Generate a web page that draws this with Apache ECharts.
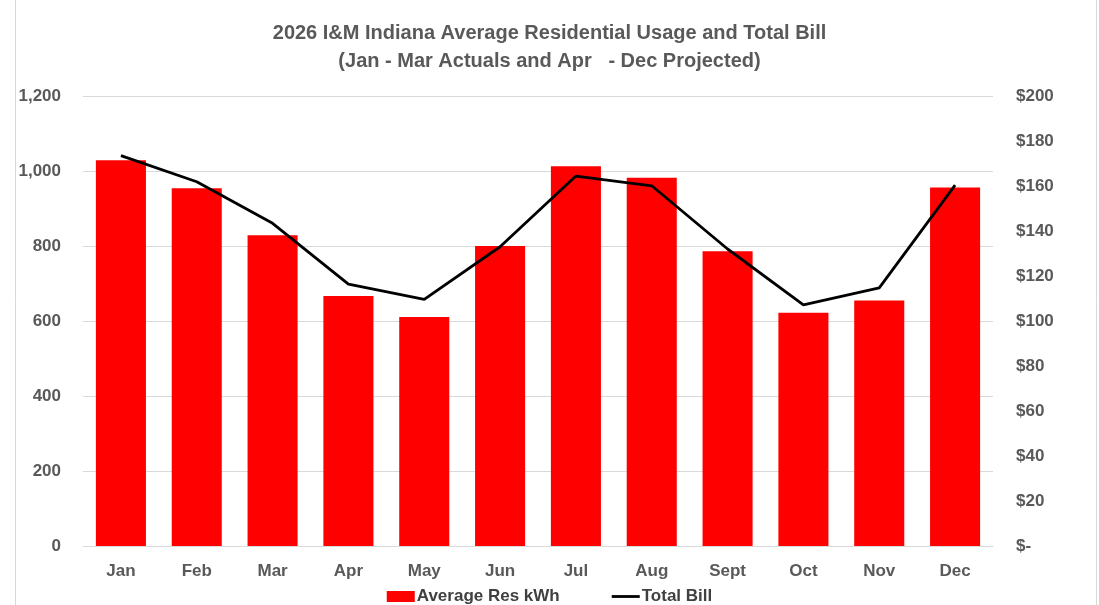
<!DOCTYPE html>
<html>
<head>
<meta charset="UTF-8">
<script src="https://cdn.jsdelivr.net/npm/echarts@6/dist/echarts.min.js"></script>
<style>
  html, body { margin: 0; padding: 0; background: #fff; }
  #main { width: 1099px; height: 605px; }
</style>
</head>
<body>
<div id="main"></div>
<script>
    // values
    var months = ['Jan', 'Feb', 'Mar', 'Apr', 'May', 'Jun', 'Jul', 'Aug', 'Sept', 'Oct', 'Nov', 'Dec'];
    var usageKwh = [1029, 954, 829, 667, 611, 800, 1013, 982, 786, 622, 655, 956];
    var totalBill = [173.5, 161.9, 143.4, 116.4, 109.6, 133, 164.4, 160.1, 132, 107.2, 114.7, 160.4];

    var grey = '#595959';
    var chart = echarts.init(document.getElementById('main'));

    var option = {
        animation: false,
        backgroundColor: '#fff',
        title: {
            text: '2026 I&M Indiana Average Residential Usage and Total Bill\n(Jan - Mar Actuals and Apr   - Dec Projected)',
            left: 'center',
            top: 14,
            textStyle: {
                fontFamily: 'Liberation Sans',
                fontSize: 20,
                fontWeight: 'bold',
                color: grey,
                lineHeight: 28
            }
        },
        legend: {
            bottom: -5,
            left: 'center',
            itemGap: 52,
            itemWidth: 28,
            itemHeight: 11,
            textStyle: {
                fontFamily: 'Liberation Sans',
                fontSize: 17,
                fontWeight: 'bold',
                color: '#404040',
                padding: [0, 0, 0, -3]
            },
            data: [
                { name: 'Average Res kWh', icon: 'rect' },
                { name: 'Total Bill', icon: 'path://M0,0 L30,0 L30,3 L0,3 Z', itemStyle: { color: '#000' } }
            ]
        },
        grid: {
            left: 83,
            right: 106,
            top: 96,
            bottom: 59
        },
        xAxis: {
            type: 'category',
            data: months,
            axisLine: { show: true, lineStyle: { color: '#d9d9d9' } },
            axisTick: { show: false },
            axisLabel: {
                color: grey,
                fontFamily: 'Liberation Sans',
                fontSize: 17,
                fontWeight: 'bold',
                margin: 17
            }
        },
        yAxis: [
            {
                type: 'value',
                min: 0,
                max: 1200,
                interval: 200,
                axisLine: { show: false },
                axisTick: { show: false },
                splitLine: { lineStyle: { color: '#d9d9d9', width: 1 } },
                axisLabel: {
                    color: grey,
                    fontFamily: 'Liberation Sans',
                    fontSize: 17,
                    fontWeight: 'bold',
                    margin: 22,
                    formatter: function (v) { return v.toLocaleString('en-US'); }
                }
            },
            {
                type: 'value',
                min: 0,
                max: 200,
                interval: 20,
                axisLine: { show: false },
                axisTick: { show: false },
                splitLine: { show: false },
                axisLabel: {
                    color: grey,
                    fontFamily: 'Liberation Sans',
                    fontSize: 17,
                    fontWeight: 'bold',
                    margin: 23,
                    formatter: function (v) { return v === 0 ? '$-' : '$' + v; }
                }
            }
        ],
        series: [
            {
                name: 'Average Res kWh',
                type: 'bar',
                data: usageKwh,
                barWidth: '66%',
                itemStyle: { color: '#ff0000' }
            },
            {
                name: 'Total Bill',
                type: 'line',
                yAxisIndex: 1,
                data: totalBill,
                showSymbol: false,
                symbol: 'none',
                lineStyle: { color: '#000', width: 2.8 },
                itemStyle: { color: '#000' }
            }
        ],
        graphic: [
            {
                type: 'rect',
                silent: true,
                shape: { x: 15.5, y: -2, width: 1081, height: 620 },
                style: { fill: 'none', stroke: '#d9d9d9', lineWidth: 1 }
            }
        ]
    };
    chart.setOption(option);
</script>
</body>
</html>
